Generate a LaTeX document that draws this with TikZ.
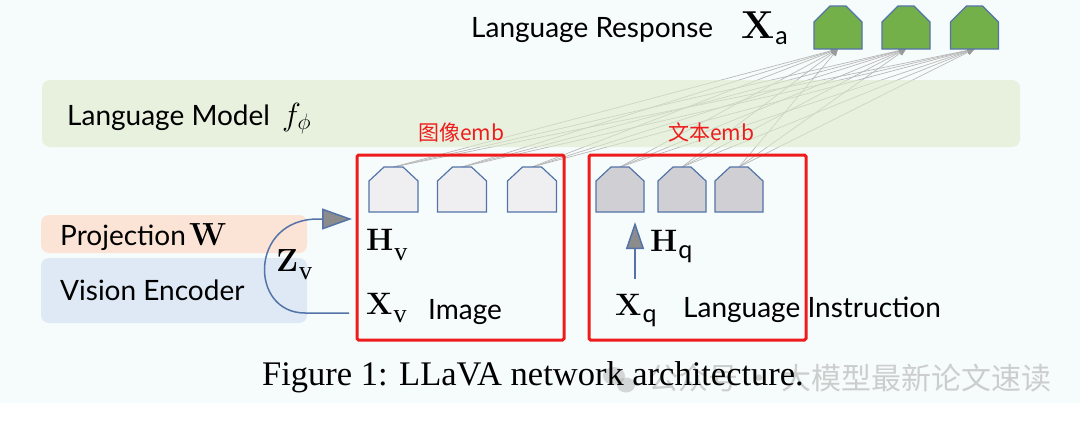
\RequirePackage{fix-cm}
\documentclass[tikz,border=0pt]{standalone}
\usepackage[no-math]{fontspec}
\usepackage{amsmath}
\usetikzlibrary{arrows.meta}
\newfontfamily\lato{Lato}
\newfontfamily\capfont{Liberation Serif}
\newfontfamily\cjk{Noto Sans CJK SC}
\definecolor{bgc}{HTML}{F6FCFB}
\definecolor{lmband}{HTML}{DDEACB}
\definecolor{projband}{HTML}{FBE4D5}
\definecolor{visband}{HTML}{DEE9F5}
\definecolor{tokedge}{HTML}{5473A8}
\definecolor{imgtok}{HTML}{EFEFF1}
\definecolor{txttok}{HTML}{D0CFD3}
\definecolor{anstok}{HTML}{74B04A}
\definecolor{boxred}{HTML}{EE1C1C}
\definecolor{connc}{HTML}{B8B8B8}
\definecolor{tipc}{HTML}{9A9A9A}
\definecolor{arrgray}{HTML}{8C8C8C}
\definecolor{wmark}{HTML}{A9A9A9}
% token outline: a box whose two top corners are cut off
% #1 node name, #2 fill colour, #3 horizontal cut, #4 vertical cut
\newcommand\tokoutline[4]{%
  \draw[tokline, fill=#2] (#1.south west) -- (#1.south east)
    -- ([yshift=-#4]#1.north east) -- ([xshift=-#3]#1.north east)
    -- ([xshift=#3]#1.north west) -- ([yshift=-#4]#1.north west) -- cycle;}
% bold matrix letter with a lowered index: #1 letter, #2 index, #3 drop
\newcommand\matrm[3]{$\mathbf{#1}$\kern1pt\raisebox{-#3}{\capfont\fontsize{26}{28}\selectfont #2}}
\newcommand\matsf[3]{$\mathbf{#1}$\kern1pt\raisebox{-#3}{\lato\fontsize{25}{27}\selectfont #2}}
\begin{document}
\begin{tikzpicture}[x=1pt,y=-1pt,
  tokbox/.style={rectangle, draw=none, inner sep=0pt, outer sep=0pt},
  tokline/.style={draw=tokedge, line width=1.2pt, line join=miter},
  conn/.style={draw=connc, line width=0.7pt,
    -{Triangle[length=7pt,width=6pt,color=tipc]}},
  flow/.style={draw=tokedge, line width=1.5pt},
  band/.style={rounded corners=8pt},
  redbox/.style={draw=boxred, line width=3pt, rounded corners=1.5pt},
  lbl/.style={anchor=base west, inner sep=0pt, font=\lato\fontsize{28}{32}\selectfont},
  sym/.style={anchor=base west, inner sep=0pt, font=\fontsize{31}{36}\selectfont},
  zh/.style={anchor=base west, inner sep=0pt, text=boxred, font=\cjk\fontsize{21}{24}\selectfont}
]
\useasboundingbox (0,0) rectangle (1080,424);
% page background
\fill[bgc] (0,0) rectangle (1080,403);
\fill[white] (0,403) rectangle (1080,424);

% answer tokens
\node[tokbox, minimum width=48pt, minimum height=43pt] (a1) at (838,27.5) {};
\node[tokbox, minimum width=48pt, minimum height=43pt] (a2) at (906,27.5) {};
\node[tokbox, minimum width=48pt, minimum height=43pt] (a3) at (974.5,27.5) {};
% image tokens
\node[tokbox, minimum width=49pt, minimum height=45pt] (v1) at (393.5,189.5) {};
\node[tokbox, minimum width=49pt, minimum height=45pt] (v2) at (462,189.5) {};
\node[tokbox, minimum width=49pt, minimum height=45pt] (v3) at (532,189.5) {};
% instruction tokens
\node[tokbox, minimum width=48pt, minimum height=45pt] (q1) at (620,189.5) {};
\node[tokbox, minimum width=48pt, minimum height=45pt] (q2) at (682,189.5) {};
\node[tokbox, minimum width=48pt, minimum height=45pt] (q3) at (739,189.5) {};

% every input token feeds every answer token
\foreach \s in {v1,v2,v3,q1,q2,q3}
  \foreach \t in {a1,a2,a3}
    \draw[conn] (\s.north) -- (\t.south);

\foreach \n in {a1,a2,a3} {\tokoutline{\n}{anstok}{16pt}{16pt}}
\foreach \n in {v1,v2,v3} {\tokoutline{\n}{imgtok}{15pt}{14pt}}
\foreach \n in {q1,q2,q3} {\tokoutline{\n}{txttok}{15pt}{14pt}}

% language model band, laid over the connections
\fill[band, lmband, opacity=0.6] (42,80) rectangle (1020,147);
\node[lbl] (lm) at (67,125) {Language Model};
\node[sym, font=\fontsize{32}{36}\selectfont] (fphi) at (282,125) {$f_{\phi}$};

% response label
\node[lbl] (resp) at (471,37) {Language Response};
\node[sym, font=\fontsize{39}{42}\selectfont] (xa) at (741,38) {\matsf{X}{a}{6pt}};

% vision side bands
\fill[band, projband] (41,215) rectangle (307,253);
\fill[band, visband] (41,258) rectangle (307,323);
\node[lbl] (proj) at (60,245) {Projection};
\node[sym, font=\fontsize{32}{36}\selectfont] (wmat) at (189,245) {$\mathbf{W}$};
\node[lbl] (venc) at (60,300) {Vision Encoder};
\node[sym, font=\fontsize{32}{36}\selectfont] (zv) at (276,271) {\matrm{Z}{v}{8pt}};

% image branch
\node[sym] (hv) at (366,250) {\matrm{H}{v}{10pt}};
\node[sym] (xv) at (366,314) {\matrm{X}{v}{8pt}};
\node[lbl] (img) at (428,319) {Image};
\coordinate (zin) at (349,313);
\coordinate (zout) at (352,219);
\draw[flow, -{Triangle[length=30pt,width=21pt,fill=arrgray]}]
  (zin) -- (305,313) .. controls (249,313) and (249,219) .. (318,219) -- (zout);

% instruction branch
\node[sym] (hq) at (650,251) {\matsf{H}{q}{7pt}};
\node[sym] (xq) at (615,315) {\matsf{X}{q}{7pt}};
\node[lbl] (inst) at (683,317) {Language Instruction};
\coordinate (qfrom) at (635,279);
\coordinate (qto) at (635,222);
\draw[flow, -{Triangle[length=27pt,width=18pt,fill=arrgray]}] (qfrom) -- (qto);

% highlighted groups
\draw[redbox] (357,155) rectangle (564,340);
\draw[redbox] (589,155) rectangle (806,340);
\node[zh] (zhimg) at (418,140) {图像emb};
\node[zh] (zhtxt) at (668,140) {文本emb};

% account mark under the caption
\node[anchor=base west, inner sep=0pt, text=wmark, opacity=0.55,
  font=\cjk\fontsize{30}{34}\selectfont] (mark) at (648,389) {公众号 · 大模型最新论文速读};
\fill[wmark, opacity=0.45] (614,376) ellipse (11pt and 9pt);
\fill[wmark, opacity=0.45] (626,385) ellipse (9pt and 7.5pt);

% caption
\node[anchor=base west, inner sep=0pt, font=\capfont\fontsize{34.5}{40}\selectfont]
  (cap) at (262,385) {Figure 1: LLaVA network architecture.};
\end{tikzpicture}
\end{document}
